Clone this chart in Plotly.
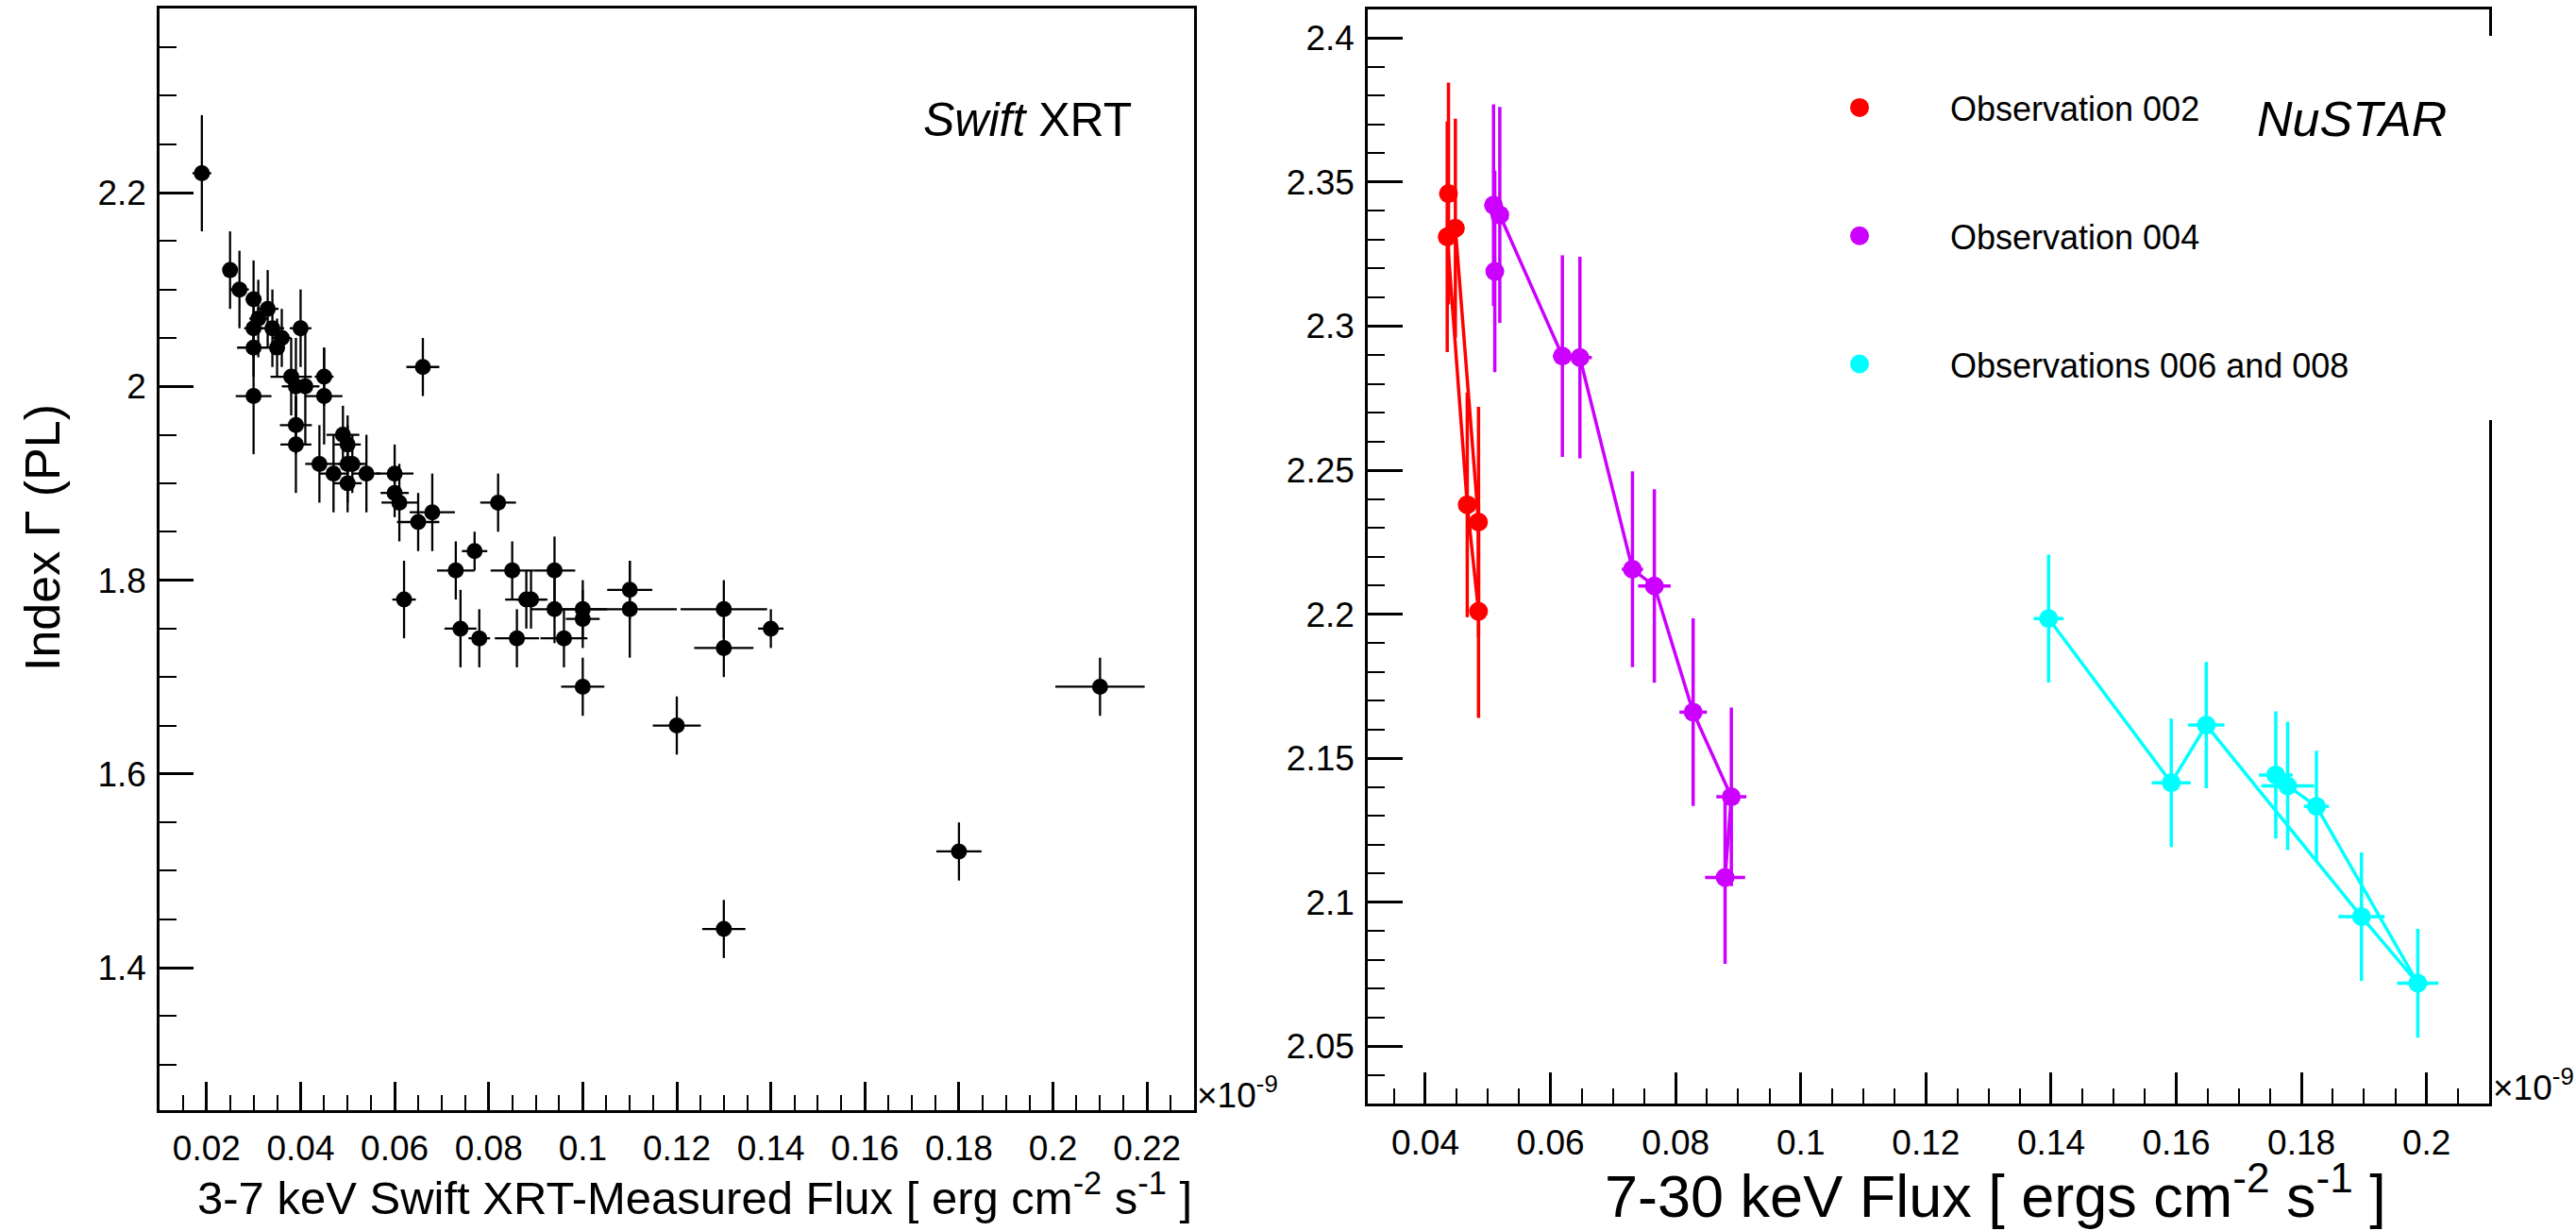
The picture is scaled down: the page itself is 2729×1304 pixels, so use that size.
import numpy as np
import plotly.graph_objects as go

W, H = 2729, 1304
FONT = "Liberation Sans, Arial, Helvetica, sans-serif"

# ---------------- data: Swift XRT (left) ----------------
# flux in units of 1e-9 erg cm^-2 s^-1
xrt_flux = [0.019, 0.025, 0.027, 0.030, 0.033, 0.031, 0.030, 0.034, 0.036, 0.035,
            0.030, 0.040, 0.030, 0.038, 0.039, 0.041, 0.045, 0.045, 0.039, 0.039,
            0.049, 0.050, 0.044, 0.047, 0.050, 0.051, 0.050, 0.054, 0.060, 0.060,
            0.061, 0.065, 0.068, 0.066, 0.082, 0.062, 0.077, 0.073, 0.074, 0.078,
            0.085, 0.094, 0.088, 0.089, 0.086, 0.094, 0.096, 0.100, 0.100, 0.110,
            0.110, 0.130, 0.130, 0.140, 0.100, 0.120, 0.130, 0.180, 0.210]
xrt_flux_err = [0.002, 0.001, 0.002, 0.0017, 0.0023, 0.0019, 0.002, 0.0025, 0.002, 0.0016,
                0.0035, 0.0023, 0.0038, 0.0044, 0.003, 0.003, 0.002, 0.0039, 0.0034, 0.0033,
                0.0035, 0.0028, 0.003, 0.003, 0.003, 0.003, 0.003, 0.003, 0.004, 0.003,
                0.0038, 0.0045, 0.0048, 0.0035, 0.0038, 0.0025, 0.0027, 0.004, 0.0034, 0.0023,
                0.0046, 0.0044, 0.0045, 0.0031, 0.0047, 0.005, 0.005, 0.0052, 0.0036, 0.0048,
                0.010, 0.0092, 0.0063, 0.0027, 0.0046, 0.0051, 0.0046, 0.0048, 0.0095]
xrt_index = [2.22, 2.12, 2.10, 2.09, 2.08, 2.07, 2.06, 2.06, 2.05, 2.04,
             2.04, 2.06, 1.99, 2.01, 2.00, 2.00, 2.01, 1.99, 1.96, 1.94,
             1.95, 1.94, 1.92, 1.91, 1.92, 1.92, 1.90, 1.91, 1.91, 1.89,
             1.88, 1.86, 1.87, 2.02, 1.88, 1.78, 1.83, 1.81, 1.75, 1.74,
             1.81, 1.81, 1.78, 1.78, 1.74, 1.77, 1.74, 1.77, 1.76, 1.79,
             1.77, 1.77, 1.73, 1.75, 1.69, 1.65, 1.44, 1.52, 1.69]
xrt_index_err = [0.06, 0.04, 0.04, 0.04, 0.04, 0.04, 0.03, 0.04, 0.03, 0.03,
                 0.03, 0.04, 0.06, 0.04, 0.05, 0.06, 0.03, 0.05, 0.03, 0.05,
                 0.03, 0.03, 0.04, 0.04, 0.04, 0.03, 0.03, 0.04, 0.03, 0.025,
                 0.04, 0.03, 0.04, 0.03, 0.03, 0.04, 0.02, 0.03, 0.04, 0.03,
                 0.03, 0.035, 0.03, 0.03, 0.03, 0.035, 0.03, 0.03, 0.03, 0.03,
                 0.05, 0.03, 0.03, 0.02, 0.03, 0.03, 0.03, 0.03, 0.03]

# ---------------- data: NuSTAR (right) ----------------
obs002_flux = [0.0437, 0.0435, 0.0467, 0.0485, 0.0485, 0.0448]
obs002_flux_err = [0.0008, 0.0008, 0.0012, 0.0008, 0.0008, 0.0008]
obs002_index = [2.346, 2.331, 2.238, 2.201, 2.232, 2.334]
obs002_index_err = [0.0385, 0.040, 0.039, 0.037, 0.040, 0.038]

obs004_flux = [0.0511, 0.0509, 0.0519, 0.0619, 0.0647, 0.0731, 0.0766, 0.0828, 0.0889, 0.0879]
obs004_flux_err = [0.0008, 0.0008, 0.0008, 0.0015, 0.0019, 0.0017, 0.0026, 0.0022, 0.0024, 0.0032]
obs004_index = [2.319, 2.342, 2.3386, 2.2896, 2.2891, 2.2156, 2.2098, 2.166, 2.1366, 2.1086]
obs004_index_err = [0.035, 0.035, 0.0375, 0.035, 0.035, 0.034, 0.0336, 0.0326, 0.031, 0.030]

obs006_008_flux = [0.1396, 0.1592, 0.1648, 0.1896, 0.1986, 0.1824, 0.1778, 0.1759]
obs006_008_flux_err = [0.0024, 0.0031, 0.0029, 0.0037, 0.0033, 0.0020, 0.0042, 0.0027]
obs006_008_index = [2.1985, 2.1415, 2.1615, 2.095, 2.0719, 2.1333, 2.1404, 2.1442]
obs006_008_index_err = [0.0222, 0.0223, 0.0219, 0.0223, 0.0189, 0.0193, 0.0223, 0.0221]

series_names = ["Observation 002", "Observation 004", "Observations 006 and 008"]
series_colors = ["#ff0000", "#cc00ff", "#00ffff"]

# ---------------- tick labels ----------------
left_x_tickvals = [0.02, 0.04, 0.06, 0.08, 0.10, 0.12, 0.14, 0.16, 0.18, 0.20, 0.22]
left_x_ticktext = ["0.02", "0.04", "0.06", "0.08", "0.1", "0.12", "0.14", "0.16", "0.18", "0.2", "0.22"]
left_y_tickvals = [1.4, 1.6, 1.8, 2.0, 2.2]
left_y_ticktext = ["1.4", "1.6", "1.8", "2", "2.2"]
right_x_tickvals = [0.04, 0.06, 0.08, 0.10, 0.12, 0.14, 0.16, 0.18, 0.20]
right_x_ticktext = ["0.04", "0.06", "0.08", "0.1", "0.12", "0.14", "0.16", "0.18", "0.2"]
right_y_tickvals = [2.05, 2.10, 2.15, 2.20, 2.25, 2.30, 2.35, 2.40]
right_y_ticktext = ["2.05", "2.1", "2.15", "2.2", "2.25", "2.3", "2.35", "2.4"]


def px(x):
    return x / W


def py(y):
    return 1 - y / H


fig = go.Figure()

# left panel
fig.add_trace(go.Scatter(
    x=xrt_flux, y=xrt_index, mode="markers",
    marker=dict(color="black", size=17),
    error_x=dict(type="data", array=xrt_flux_err, color="black", thickness=2.3, width=0),
    error_y=dict(type="data", array=xrt_index_err, color="black", thickness=2.3, width=0),
    xaxis="x", yaxis="y", showlegend=False,
))

# right panel
right_sets = [
    (obs002_flux, obs002_flux_err, obs002_index, obs002_index_err),
    (obs004_flux, obs004_flux_err, obs004_index, obs004_index_err),
    (obs006_008_flux, obs006_008_flux_err, obs006_008_index, obs006_008_index_err),
]
for (fx, fxe, gy, gye), name, col in zip(right_sets, series_names, series_colors):
    fig.add_trace(go.Scatter(
        x=fx, y=gy, mode="lines+markers", name=name,
        line=dict(color=col, width=3.5),
        marker=dict(color=col, size=20),
        error_x=dict(type="data", array=fxe, color=col, thickness=3.5, width=0),
        error_y=dict(type="data", array=gye, color=col, thickness=3.5, width=0),
        xaxis="x2", yaxis="y2", showlegend=False,
    ))
# legend entries (dot only)
for i, (name, col) in enumerate(zip(series_names, series_colors)):
    fig.add_trace(go.Scatter(
        x=[None], y=[None], mode="markers", name=name,
        marker=dict(color=col, size=22, line=dict(color=col, width=4)),
        xaxis="x2", yaxis="y2",
        showlegend=True, legendgroup=f"g{i}",
    ))

tickfont = dict(family=FONT, size=37, color="black")


def axis_common(**kw):
    d = dict(showline=True, linecolor="black", linewidth=2.5, mirror=True,
             ticks="inside", tickcolor="black", tickwidth=2.5,
             showgrid=False, zeroline=False, tickfont=tickfont, tickmode="array")
    d.update(kw)
    return d


def minor(vals, length):
    return dict(tickmode="array", tickvals=vals, ticks="inside", ticklen=length,
                tickcolor="black", tickwidth=2.2)


fig.update_layout(
    width=W, height=H, margin=dict(l=0, r=0, t=0, b=0),
    paper_bgcolor="white", plot_bgcolor="white",
    xaxis=axis_common(domain=[px(169), px(1265)], range=[0.01, 0.23],
                      tickvals=left_x_tickvals, ticktext=left_x_ticktext, ticklen=30,
                      minor=minor(list(np.round(np.arange(0.015, 0.23, 0.005), 4)), 16),
                      anchor="y", ticklabelstandoff=6),
    yaxis=axis_common(domain=[py(1176), py(9)], range=[1.253, 2.39],
                      tickvals=left_y_tickvals, ticktext=left_y_ticktext, ticklen=36,
                      minor=minor(list(np.round(np.arange(1.3, 2.39, 0.05), 3)), 18),
                      anchor="x", ticklabelstandoff=4),
    xaxis2=axis_common(domain=[px(1449), px(2637)], range=[0.0308, 0.21],
                       tickvals=right_x_tickvals, ticktext=right_x_ticktext, ticklen=34,
                       minor=minor(list(np.round(np.arange(0.035, 0.21, 0.005), 4)), 17),
                       anchor="y2", ticklabelstandoff=6),
    yaxis2=axis_common(domain=[py(1169.4), py(9.8)], range=[2.03, 2.41],
                       tickvals=right_y_tickvals, ticktext=right_y_ticktext, ticklen=37,
                       minor=minor(list(np.round(np.arange(2.04, 2.41, 0.01), 3)), 18),
                       anchor="x2", ticklabelstandoff=4),
    legend=dict(x=px(1874), y=py(84), xanchor="left", yanchor="top",
                bgcolor="white", borderwidth=0, itemwidth=182, tracegroupgap=86,
                font=dict(family=FONT, size=36, color="black")),
    showlegend=True,
)

# legend box covering frame edge (as in original TLegend)
fig.add_shape(type="rect", xref="paper", yref="paper",
              x0=px(2633), x1=px(2642), y0=py(445), y1=py(38),
              fillcolor="white", line=dict(width=0), layer="above")

annots = [
    dict(text="Index Γ (PL)", x=px(45), y=py(570), textangle=-90, size=52,
         xanchor="center", yanchor="middle"),
    dict(text="3-7 keV Swift XRT-Measured Flux [ erg cm<sup>-2</sup> s<sup>-1</sup> ]",
         x=px(1265), y=py(1265), size=49, xanchor="right", yanchor="middle"),
    dict(text="7-30 keV Flux [ ergs cm<sup>-2</sup> s<sup>-1</sup> ]",
         x=px(2530), y=py(1262), size=63, xanchor="right", yanchor="middle"),
    dict(text="×10<sup>-9</sup>", x=px(1266), y=py(1157), size=37,
         xanchor="left", yanchor="middle"),
    dict(text="×10<sup>-9</sup>", x=px(2639), y=py(1149), size=37,
         xanchor="left", yanchor="middle"),
    dict(text="<i>Swift</i> XRT", x=px(1088), y=py(127), size=50,
         xanchor="center", yanchor="middle"),
    dict(text="<i>NuSTAR</i>", x=px(2491), y=py(126), size=52,
         xanchor="center", yanchor="middle"),
]
for a in annots:
    fig.add_annotation(text=a["text"], x=a["x"], y=a["y"], xref="paper", yref="paper",
                       showarrow=False, xanchor=a["xanchor"], yanchor=a["yanchor"],
                       textangle=a.get("textangle", 0),
                       font=dict(family=FONT, size=a["size"], color="black"))

fig.write_html("out.html")
